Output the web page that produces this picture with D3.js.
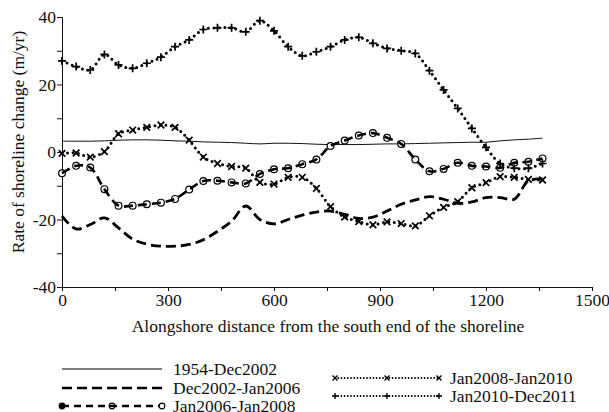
<!DOCTYPE html>
<html>
<head>
<meta charset="utf-8">
<script src="https://cdn.jsdelivr.net/npm/d3@7"></script>
<style>
  html, body { margin: 0; padding: 0; background: #fff; }
  svg { display: block; }
  text { font-family: "Liberation Serif", "Times New Roman", serif; fill: #111; }
</style>
</head>
<body>
<svg id="chart" width="609" height="412"></svg>
<script>
// ---- Data ----
const distance = [0, 40, 80, 120, 160, 200, 240, 280, 320, 360, 400, 440, 480, 520, 560, 600, 640, 680, 720, 760, 800, 840, 880, 920, 960, 1000, 1040, 1080, 1120, 1160, 1200, 1240, 1280, 1320, 1360];

const s1954_Dec2002 = [3.2, 3.2, 3.2, 3.3, 3.5, 3.6, 3.6, 3.5, 3.3, 3.2, 3.0, 2.9, 2.8, 2.6, 2.4, 2.6, 2.6, 2.5, 2.3, 2.2, 2.2, 2.2, 2.3, 2.4, 2.4, 2.5, 2.6, 2.7, 2.8, 2.9, 2.9, 3.3, 3.6, 3.8, 4.1];
const sDec2002_Jan2006 = [-19.0, -22.8, -21.5, -19.5, -22.5, -25.8, -27.3, -27.9, -27.9, -27.4, -26.0, -23.5, -20.5, -16.0, -20.0, -21.3, -20.0, -18.7, -17.8, -17.5, -18.5, -19.7, -19.3, -17.5, -15.5, -14.2, -13.2, -14.0, -15.2, -14.8, -13.5, -13.5, -14.0, -8.5, -8.0];
const sJan2006_Jan2008 = [-6.3, -4.1, -4.6, -11.0, -15.9, -15.9, -15.5, -15.0, -13.9, -11.1, -8.6, -8.5, -9.0, -9.3, -6.5, -5.1, -4.8, -3.6, -2.2, 1.8, 3.4, 4.9, 5.6, 4.2, 2.4, -2.2, -5.7, -5.0, -3.2, -4.1, -4.3, -4.7, -3.2, -2.9, -1.9];
const sJan2008_Jan2010 = [-0.4, -0.3, -1.5, 0.1, 5.4, 6.5, 7.3, 8.0, 7.3, 3.5, -1.5, -3.4, -4.3, -4.8, -9.0, -9.5, -7.5, -7.5, -10.8, -16.2, -19.3, -20.6, -21.6, -20.7, -21.2, -21.9, -18.9, -16.4, -14.7, -10.6, -9.1, -7.3, -7.5, -8.1, -8.3];
const sJan2010_Dec2011 = [27.0, 25.3, 24.3, 28.9, 25.8, 24.8, 26.3, 28.1, 31.2, 33.2, 36.3, 36.8, 36.8, 35.6, 38.9, 35.9, 31.2, 28.5, 29.7, 31.2, 33.2, 34.0, 32.2, 30.7, 30.0, 29.2, 24.1, 18.4, 12.9, 7.0, 1.4, -3.4, -4.8, -4.8, -3.4];

const seriesNames = ["1954-Dec2002", "Dec2002-Jan2006", "Jan2006-Jan2008", "Jan2008-Jan2010", "Jan2010-Dec2011"];
const xTickValues = [0, 300, 600, 900, 1200, 1500];
const yTickValues = [-40, -20, 0, 20, 40];
const xTitle = "Alongshore distance from the south end of the shoreline";
const yTitle = "Rate of shoreline change (m/yr)";

// ---- Layout ----
const svg = d3.select("#chart");
const m = { left: 62, right: 592, top: 17, bottom: 287 };
const x = d3.scaleLinear().domain([0, 1500]).range([m.left, m.right]);
const y = d3.scaleLinear().domain([-40, 40]).range([m.bottom, m.top]);

const FONT = 17.5;

// Axes
const xAxis = d3.axisBottom(x).tickValues(d3.range(0, 1501, 150)).tickSize(4)
  .tickFormat(d => xTickValues.includes(d) ? d : "");
const yAxis = d3.axisLeft(y).tickValues(d3.range(-40, 41, 10)).tickSize(5)
  .tickFormat(d => yTickValues.includes(d) ? d : "");

const gx = svg.append("g").attr("transform", `translate(0,${m.bottom})`).call(xAxis);
const gy = svg.append("g").attr("transform", `translate(${m.left},0)`).call(yAxis);
[gx, gy].forEach(g => {
  g.select(".domain").attr("stroke", "#111").attr("stroke-width", 1);
  g.selectAll(".tick line").attr("stroke", "#111").attr("stroke-width", 1);
  g.selectAll("text").attr("font-family", "Liberation Serif, serif").attr("font-size", FONT).attr("fill", "#111");
});
gx.selectAll("text").attr("dy", "0.9em").attr("y", 3);
gy.selectAll("text").attr("x", -6).attr("dy", "0.33em");

svg.append("text").attr("x", (m.left + m.right) / 2 + 1).attr("y", 332)
  .attr("text-anchor", "middle").attr("font-size", FONT).text(xTitle);
svg.append("text").attr("transform", `translate(24,142) rotate(-90)`)
  .attr("text-anchor", "middle").attr("font-size", FONT).text(yTitle);

// ---- Series ----
const curve = d3.curveCatmullRom.alpha(0.5);
const line = d3.line().x(d => x(d[0])).y(d => y(d[1])).curve(curve);
const pts = vals => distance.map((dd, i) => [dd, vals[i]]);

const plot = svg.append("g");

// 1954-Dec2002 thin solid
plot.append("path").datum(pts(s1954_Dec2002)).attr("d", line)
  .attr("fill", "none").attr("stroke", "#111").attr("stroke-width", 1);

// Dec2002-Jan2006 dashed
plot.append("path").datum(pts(sDec2002_Jan2006)).attr("d", line)
  .attr("fill", "none").attr("stroke", "#000").attr("stroke-width", 2.8)
  .attr("stroke-dasharray", "10,5");

// Jan2006-Jan2008 circles + dashed on top
plot.append("g").selectAll("circle").data(pts(sJan2006_Jan2008)).join("circle")
  .attr("cx", d => x(d[0])).attr("cy", d => y(d[1])).attr("r", 3.4)
  .attr("fill", "#fff").attr("stroke", "#000").attr("stroke-width", 1.2);
plot.append("path").datum(pts(sJan2006_Jan2008)).attr("d", line)
  .attr("fill", "none").attr("stroke", "#000").attr("stroke-width", 2.6)
  .attr("stroke-dasharray", "9,5");

const crossPath = "M-4,0H4M0,-4V4";
const xPath = "M-3.3,-3.3L3.3,3.3M-3.3,3.3L3.3,-3.3";

// Jan2008-Jan2010 dotted with x
plot.append("path").datum(pts(sJan2008_Jan2010)).attr("d", line)
  .attr("fill", "none").attr("stroke", "#000").attr("stroke-width", 3)
  .attr("stroke-linecap", "round").attr("stroke-dasharray", "0,5.5");
plot.append("g").selectAll("path").data(pts(sJan2008_Jan2010)).join("path")
  .attr("transform", d => `translate(${x(d[0])},${y(d[1])})`).attr("d", xPath)
  .attr("stroke", "#000").attr("stroke-width", 1.7).attr("fill", "none");

// Jan2010-Dec2011 dotted with +
plot.append("path").datum(pts(sJan2010_Dec2011)).attr("d", line)
  .attr("fill", "none").attr("stroke", "#000").attr("stroke-width", 3)
  .attr("stroke-linecap", "round").attr("stroke-dasharray", "0,5.5");
plot.append("g").selectAll("path").data(pts(sJan2010_Dec2011)).join("path")
  .attr("transform", d => `translate(${x(d[0])},${y(d[1])})`).attr("d", crossPath)
  .attr("stroke", "#000").attr("stroke-width", 1.7).attr("fill", "none");

// ---- Legend ----
const leg = svg.append("g");
const legendItems = [
  { name: seriesNames[0], x0: 62, x1: 162, y: 369, type: "solid" },
  { name: seriesNames[1], x0: 62, x1: 162, y: 388, type: "dash" },
  { name: seriesNames[2], x0: 62, x1: 162, y: 406, type: "circle" },
  { name: seriesNames[3], x0: 335, x1: 439, y: 378, type: "x" },
  { name: seriesNames[4], x0: 335, x1: 439, y: 396, type: "plus" }
];
legendItems.forEach(it => {
  const g = leg.append("g");
  const ln = g.append("line").attr("x1", it.x0).attr("x2", it.x1).attr("y1", it.y).attr("y2", it.y)
    .attr("stroke", "#000");
  const mid = (it.x0 + it.x1) / 2;
  if (it.type === "solid") ln.attr("stroke-width", 1);
  if (it.type === "dash") ln.attr("stroke-width", 2.6).attr("stroke-dasharray", "10,5");
  if (it.type === "circle") {
    [it.x0, mid, it.x1].forEach((cx, k) => {
      g.append("circle").attr("cx", cx).attr("cy", it.y).attr("r", 2.8)
        .attr("fill", k === 0 ? "#000" : "#fff").attr("stroke", "#000").attr("stroke-width", 1.2);
    });
    g.append("line").attr("x1", it.x0).attr("x2", it.x1 - 3).attr("y1", it.y).attr("y2", it.y)
      .attr("stroke", "#000").attr("stroke-width", 2.5).attr("stroke-dasharray", "7,5");
    ln.remove();
  }
  if (it.type === "x" || it.type === "plus") {
    ln.attr("stroke-width", 1.8).attr("stroke-linecap", "round").attr("stroke-dasharray", "0,3.2");
    [it.x0, mid, it.x1].forEach(cx => {
      g.append("path").attr("transform", `translate(${cx},${it.y})`)
        .attr("d", it.type === "x" ? "M-2.5,-2.5L2.5,2.5M-2.5,2.5L2.5,-2.5" : "M-3,0H3M0,-3V3")
        .attr("stroke", "#000").attr("stroke-width", 1.4);
    });
  }
  g.append("text").attr("x", it.x1 + 11).attr("y", it.y).attr("dy", "0.35em")
    .attr("font-size", FONT).text(it.name);
});
</script>
</body>
</html>
